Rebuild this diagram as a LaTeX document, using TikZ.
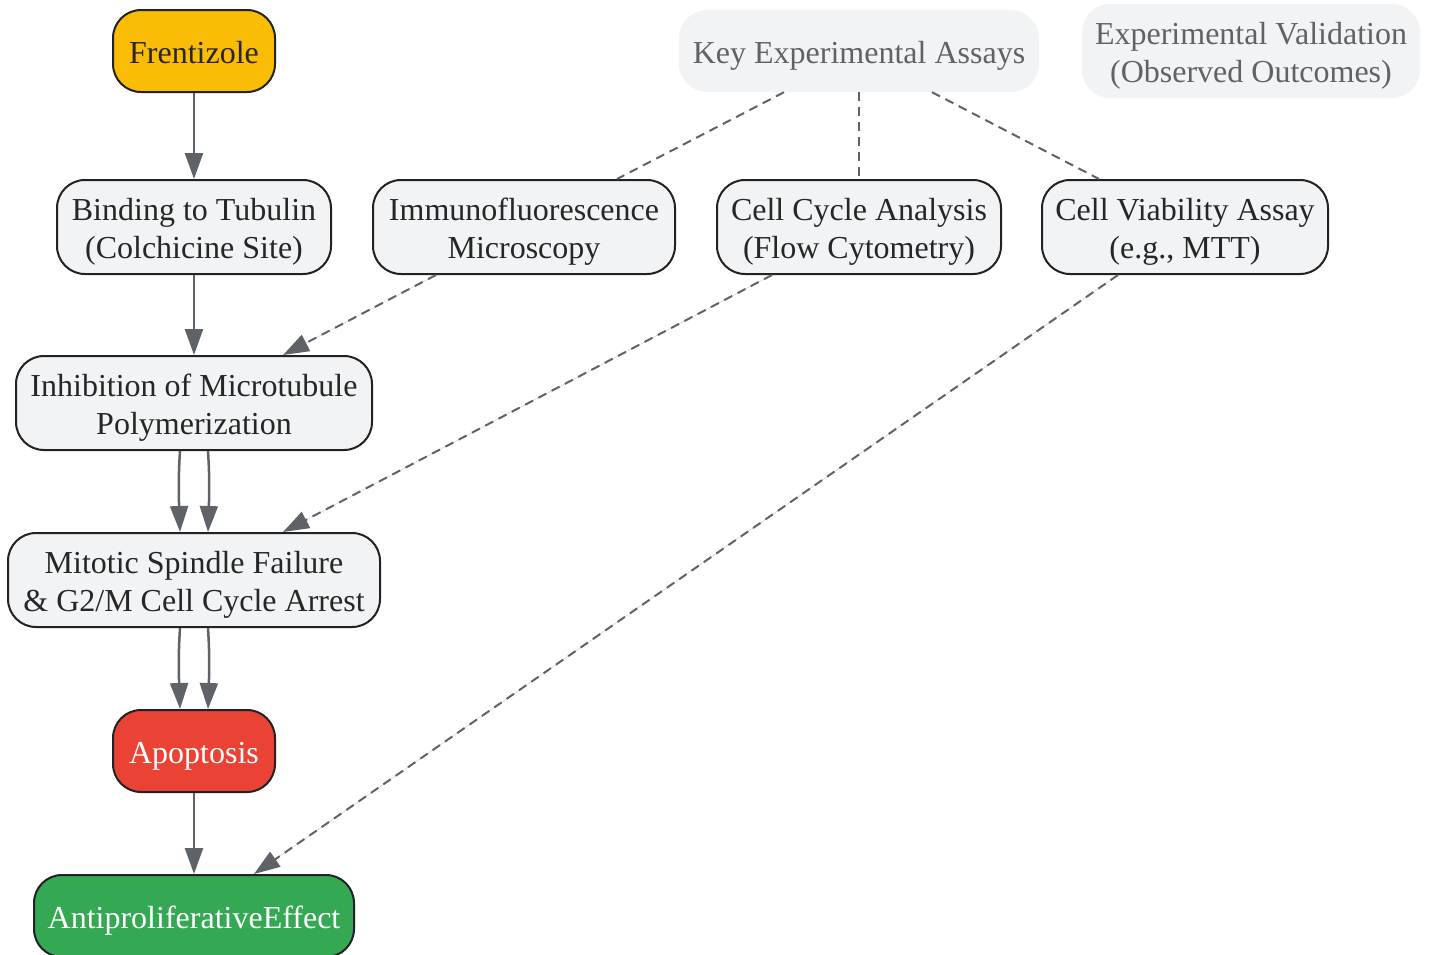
\documentclass[tikz,border=0pt]{standalone}
\usepackage{fontspec}
\setmainfont{Liberation Serif}
\usetikzlibrary{arrows.meta}
\definecolor{boxfill}{HTML}{F1F3F4}
\definecolor{boxline}{HTML}{222222}
\definecolor{edgecol}{HTML}{5F6368}
\definecolor{labelcol}{HTML}{5F6368}
\definecolor{yel}{HTML}{FBBC05}
\definecolor{redc}{HTML}{EA4335}
\definecolor{grn}{HTML}{34A853}
\newcommand{\tx}[1]{\raisebox{-4.5pt}[\height][\depth]{\begin{tabular}{@{}c@{}}#1\end{tabular}}}
\tikzset{
  base/.style={rounded corners=28pt, line width=2pt, draw=boxline, fill=boxfill,
    inner sep=0pt, text=black!85,
    font=\fontsize{32}{38}\selectfont},
  onebox/.style={base, minimum height=82pt},
  twobox/.style={base, minimum height=94pt},
  header/.style={rounded corners=28pt, fill=boxfill, draw=none,
    inner sep=0pt, text=labelcol, font=\fontsize{32}{38}\selectfont},
  arr/.style={draw=edgecol, line width=2.5pt, -{Triangle[length=26pt,width=18pt]}, fill=edgecol},
  darr/.style={draw=edgecol, line width=2pt, dash pattern=on 9pt off 6pt,
    -{Triangle[length=26pt,width=18pt]}, fill=edgecol},
  dline/.style={draw=edgecol, line width=2pt, dash pattern=on 9pt off 6pt},
}
\begin{document}
\begin{tikzpicture}[x=1pt,y=-1pt]
\useasboundingbox (0,0) rectangle (1430,954);
\node[onebox, fill=yel, minimum width=162pt] (fren) at (194,51) {\tx{Frentizole}};
\node[twobox, minimum width=274pt] (bind) at (194,227) {\tx{Binding to Tubulin\\(Colchicine Site)}};
\node[twobox, minimum width=302pt] (immu) at (524,227) {\tx{Immunofluorescence\\Microscopy}};
\node[twobox, minimum width=284pt] (cyc) at (859,227) {\tx{Cell Cycle Analysis\\(Flow Cytometry)}};
\node[twobox, minimum width=286pt] (via) at (1185,227) {\tx{Cell Viability Assay\\(e.g., MTT)}};
\node[header, minimum width=360pt, minimum height=82pt] (key) at (859,51) {\tx{Key Experimental Assays}};
\node[header, minimum width=338pt, minimum height=94pt] (val) at (1251,51) {\tx{Experimental Validation\\(Observed Outcomes)}};
\node[twobox, minimum width=356pt] (inh) at (194,403) {\tx{Inhibition of Microtubule\\Polymerization}};
\node[twobox, minimum width=372pt] (mit) at (194,580) {\tx{Mitotic Spindle Failure\\\& G2/M Cell Cycle Arrest}};
\node[onebox, fill=redc, text=white, minimum width=162pt] (apo) at (194,751) {\tx{Apoptosis}};
\node[onebox, fill=grn, text=white, minimum width=320pt] (anti) at (194,916) {\tx{AntiproliferativeEffect}};

\draw[arr] (fren) -- (bind);
\draw[arr] (bind) -- (inh);
\draw[arr] ([xshift=-14pt]inh.south) .. controls +(-2,30) and +(-1,-30) .. ([xshift=-14pt]mit.north);
\draw[arr] ([xshift=14pt]inh.south) .. controls +(2,30) and +(1,-30) .. ([xshift=14pt]mit.north);
\draw[arr] ([xshift=-14pt]mit.south) .. controls +(-2,30) and +(-1,-30) .. ([xshift=-14pt]apo.north);
\draw[arr] ([xshift=14pt]mit.south) .. controls +(2,30) and +(1,-30) .. ([xshift=14pt]apo.north);
\draw[arr] (apo) -- (anti);

\draw[dline] ([xshift=-75pt]key.south) -- ([xshift=93pt]immu.north);
\draw[dline] (key.south) -- (cyc.north);
\draw[dline] ([xshift=73pt]key.south) -- ([xshift=-86pt]via.north);

\draw[darr] ([xshift=-88pt]immu.south) -- ([xshift=89pt]inh.north);
\draw[darr] ([xshift=-87pt]cyc.south) -- ([xshift=89pt]mit.north);
\draw[darr] ([xshift=-67pt]via.south) -- ([xshift=60pt]anti.north);
\end{tikzpicture}
\end{document}
